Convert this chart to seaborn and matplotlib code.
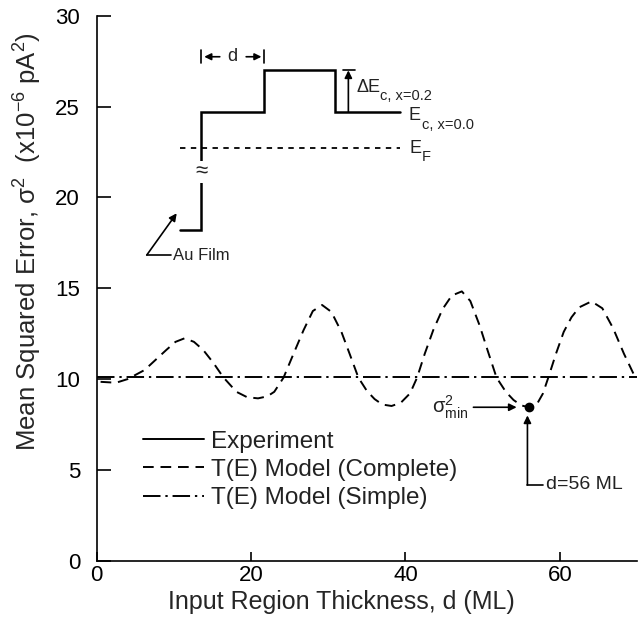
import matplotlib
matplotlib.use("Agg")
import matplotlib.pyplot as plt
from matplotlib.lines import Line2D
import pandas as pd
import seaborn as sns

# Mean squared error (x1e-6 pA^2) versus input region thickness d (ML)
thickness_complete = [0.5, 2.5, 4.0, 6.2, 7.6, 9.0, 10.2, 11.4, 12.6, 13.8, 15.1,
                      16.4, 18.1, 19.5, 20.9, 22.1, 23.0, 24.2, 25.5, 26.8, 28.0,
                      29.2, 30.4, 31.7, 32.8, 33.9, 35.0, 36.0, 37.0, 38.2, 39.4,
                      40.6, 41.5, 42.5, 43.6, 44.8, 46.0, 47.3, 48.4, 49.6, 50.7,
                      51.8, 53.0, 54.0, 55.0, 56.0, 57.0, 57.8, 58.5, 59.5, 60.5,
                      61.5, 62.5, 64.1, 65.5, 66.9, 68.3, 69.7]
mse_complete = [9.85, 9.8, 10.0, 10.5, 11.05, 11.6, 12.05, 12.25, 12.05, 11.6, 10.9,
                10.1, 9.3, 9.0, 8.94, 9.05, 9.3, 10.08, 11.4, 12.7, 13.75,
                14.08, 13.7, 12.6, 11.35, 10.08, 9.35, 8.9, 8.6, 8.52, 8.7,
                9.22, 10.08, 11.4, 12.7, 13.85, 14.6, 14.83, 14.3, 12.96, 11.5,
                10.08, 9.3, 8.85, 8.55, 8.45, 8.6, 9.2, 10.08, 11.4, 12.6,
                13.4, 13.95, 14.28, 13.9, 12.8, 11.4, 10.15]
thickness_simple = [0, 70]
mse_simple = [10.1, 10.1]

legend_labels = ["Experiment", "T(E) Model (Complete)", "T(E) Model (Simple)"]
x_ticks = [0, 20, 40, 60]
y_ticks = [0, 5, 10, 15, 20, 25, 30]

# Conduction-band sketch: Au film, input region of width d, barrier, collector
band_x = [10.8, 13.57, 13.57, 21.7, 21.7, 30.9, 30.9, 39.3]
band_y = [18.2, 18.2, 24.7, 24.7, 27.0, 27.0, 24.7, 24.7]
fermi_x = [10.8, 39.3]
fermi_y = [22.7, 22.7]

d_best = 56
mse_best = 8.45

sns.set_theme(style="ticks")
plt.rcParams.update({
    "font.family": ["Liberation Sans", "DejaVu Sans"],
    "mathtext.fontset": "custom",
    "mathtext.rm": "Liberation Sans",
    "mathtext.it": "Liberation Sans:italic",
    "mathtext.bf": "Liberation Sans:bold",
    "axes.edgecolor": "black",
    "axes.linewidth": 1.2,
    "xtick.color": "black",
    "ytick.color": "black",
    "text.color": "#222222",
})

fig = plt.figure(figsize=(6.44, 6.18), dpi=100)
ax = fig.add_axes([0.1502, 0.0927, 0.839, 0.8816])

complete = pd.DataFrame({"d": thickness_complete, "mse": mse_complete})
simple = pd.DataFrame({"d": thickness_simple, "mse": mse_simple})

sns.lineplot(data=complete, x="d", y="mse", ax=ax, color="black", lw=1.4,
             linestyle=(0, (5.5, 3.5)), estimator=None)
sns.lineplot(data=simple, x="d", y="mse", ax=ax, color="black", lw=1.4,
             linestyle=(0, (9, 2.5, 1.2, 2.5)), estimator=None)

ax.set_xlim(0, 70)
ax.set_ylim(0, 30)
ax.set_xticks(x_ticks)
ax.set_yticks(y_ticks)
ax.tick_params(axis="y", direction="in", length=10, width=1.2, labelsize=16, pad=12)
ax.tick_params(axis="x", direction="in", length=6.5, width=1.2, labelsize=16, pad=3)
sns.despine(ax=ax)

ax.set_xlabel("Input Region Thickness, d (ML)", fontsize=18)
ax.set_ylabel("Mean Squared Error, σ$^{2}$  (x10$^{-6}$ pA$^{2}$)", fontsize=18.5)
ax.xaxis.set_label_coords(0.452, -0.053)
ax.yaxis.set_label_coords(-0.098, 0.585)

# legend
handles = [
    Line2D([], [], color="black", lw=1.4),
    Line2D([], [], color="black", lw=1.4, linestyle=(0, (5.5, 3.5))),
    Line2D([], [], color="black", lw=1.4, linestyle=(0, (9, 2.5, 1.2, 2.5))),
]
ax.legend(handles, legend_labels, loc="center left", bbox_to_anchor=(0.0857, 0.1665),
          frameon=False, fontsize=17.5, handlelength=2.5, handletextpad=0.3,
          labelspacing=0.25, borderpad=0, borderaxespad=0)

# band diagram
ax.plot(band_x, band_y, color="black", lw=1.8, solid_joinstyle="miter")
ax.plot(fermi_x, fermi_y, color="black", lw=1.3, linestyle=(0, (3, 3)))
ax.text(13.57, 21.4, "≈", ha="center", va="center", fontsize=16,
        bbox=dict(facecolor="white", edgecolor="none", pad=0.2))

# width marker above the input region
ax.annotate("", xy=(13.57, 27.75), xytext=(16.3, 27.75),
            arrowprops=dict(arrowstyle="-|>", color="black", lw=1.2, mutation_scale=10))
ax.annotate("", xy=(21.7, 27.75), xytext=(19.0, 27.75),
            arrowprops=dict(arrowstyle="-|>", color="black", lw=1.2, mutation_scale=10))
ax.plot([13.57, 13.57], [27.4, 28.1], color="black", lw=1.2)
ax.plot([21.7, 21.7], [27.4, 28.1], color="black", lw=1.2)
ax.text(17.6, 27.75, "d", ha="center", va="center", fontsize=13)

# barrier height arrow
ax.annotate("", xy=(32.6, 27.0), xytext=(32.6, 24.7),
            arrowprops=dict(arrowstyle="-|>", color="black", lw=1.2, mutation_scale=11,
                            shrinkA=0, shrinkB=0))
ax.plot([31.9, 33.4], [27.0, 27.0], color="black", lw=1.2)
ax.text(33.7, 26.05, "ΔE", ha="left", va="center", fontsize=13)
ax.text(36.7, 25.6, "c, x=0.2", ha="left", va="center", fontsize=10.5)
ax.text(40.35, 24.5, "E", ha="left", va="center", fontsize=13)
ax.text(42.1, 24.0, "c, x=0.0", ha="left", va="center", fontsize=10.5)
ax.text(40.5, 22.7, "E", ha="left", va="center", fontsize=13)
ax.text(42.1, 22.25, "F", ha="left", va="center", fontsize=10.5)

# Au film pointer
ax.plot([6.48, 9.6], [16.83, 16.83], color="black", lw=1.2)
ax.annotate("", xy=(10.36, 19.13), xytext=(6.48, 16.83),
            arrowprops=dict(arrowstyle="-|>", color="black", lw=1.2, mutation_scale=11,
                            shrinkA=0, shrinkB=0))
ax.text(9.93, 16.83, "Au Film", ha="left", va="center", fontsize=12)

# minimum of the complete model
ax.plot([d_best], [mse_best], marker="o", color="black", markersize=6)
ax.annotate("", xy=(d_best - 1.6, mse_best), xytext=(48.8, mse_best),
            arrowprops=dict(arrowstyle="-|>", color="black", lw=1.2, mutation_scale=11,
                            shrinkA=0, shrinkB=0))
ax.text(48.2, mse_best, "σ$^{2}_{\\mathrm{min}}$", ha="right", va="center", fontsize=14.5)
ax.annotate("", xy=(d_best - 0.2, mse_best - 0.45), xytext=(d_best - 0.2, 4.17),
            arrowprops=dict(arrowstyle="-|>", color="black", lw=1.2, mutation_scale=11,
                            shrinkA=0, shrinkB=0))
ax.plot([d_best - 0.2, 57.8], [4.17, 4.17], color="black", lw=1.2)
ax.text(58.2, 4.17, f"d={d_best} ML", ha="left", va="center", fontsize=14)

fig.savefig("out.png", dpi=100)
